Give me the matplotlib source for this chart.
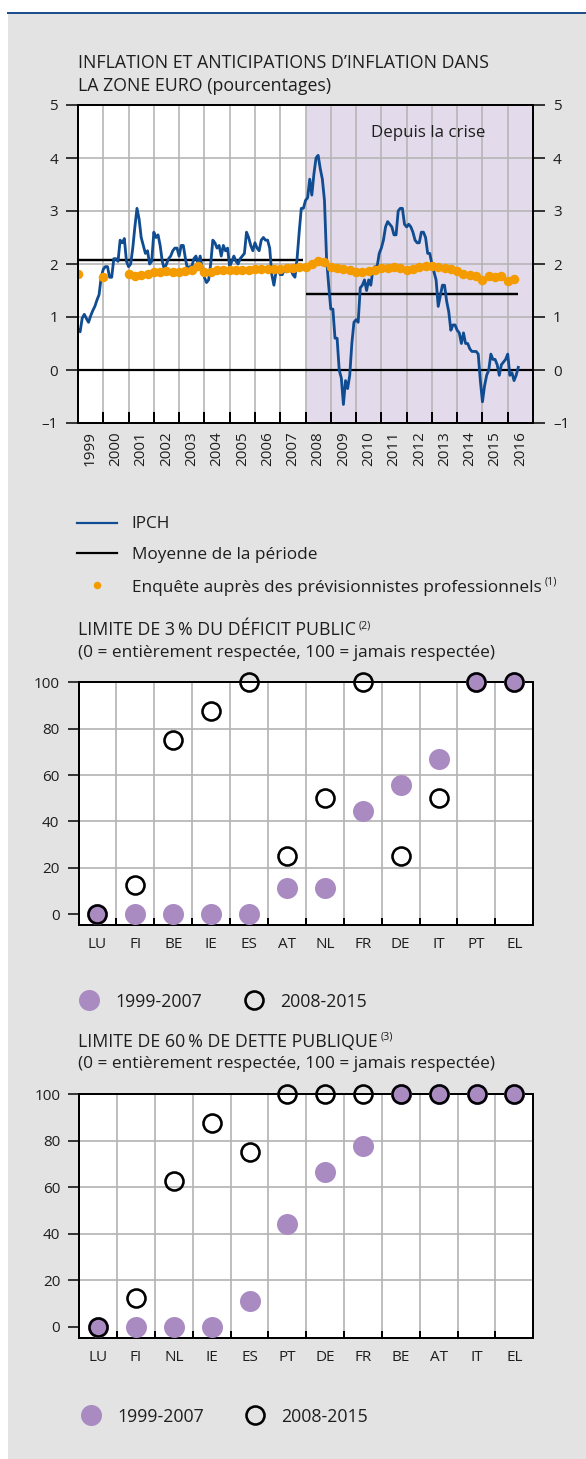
import numpy as np
import matplotlib
matplotlib.use("Agg")
import matplotlib.pyplot as plt
from matplotlib.lines import Line2D
from matplotlib.patches import Rectangle

# ---------------- data ----------------
ipch_start = 1999  # monthly, Jan 1999 - Jun 2016
ipch_1999 = [0.78, 0.72, 0.98, 1.05, 0.97, 0.90, 1.02, 1.12, 1.20, 1.32, 1.42, 1.75]
ipch_2000 = [1.90, 1.95, 1.95, 1.75, 1.75, 2.10, 2.10, 2.05, 2.45, 2.40, 2.48, 2.05]
ipch_2001 = [1.95, 2.00, 2.30, 2.70, 3.05, 2.85, 2.50, 2.35, 2.20, 2.25, 2.00, 2.05]
ipch_2002 = [2.60, 2.50, 2.55, 2.35, 2.05, 1.90, 2.00, 2.10, 2.15, 2.25, 2.30, 2.30]
ipch_2003 = [2.15, 2.35, 2.35, 2.10, 1.90, 1.95, 1.95, 2.10, 2.15, 2.00, 2.15, 1.90]
ipch_2004 = [1.75, 1.65, 1.70, 2.00, 2.45, 2.40, 2.30, 2.35, 2.15, 2.35, 2.25, 2.30]
ipch_2005 = [1.95, 2.05, 2.15, 2.05, 2.00, 2.10, 2.15, 2.20, 2.60, 2.50, 2.35, 2.25]
ipch_2006 = [2.40, 2.30, 2.25, 2.45, 2.50, 2.45, 2.45, 2.30, 1.80, 1.60, 1.85, 1.90]
ipch_2007 = [1.80, 1.80, 1.90, 1.85, 1.90, 1.90, 1.80, 1.75, 2.10, 2.60, 3.05, 3.05]
ipch_2008 = [3.20, 3.25, 3.60, 3.30, 3.70, 4.00, 4.05, 3.80, 3.60, 3.20, 2.10, 1.60]
ipch_2009 = [1.15, 1.15, 0.60, 0.60, 0.00, -0.15, -0.65, -0.20, -0.35, -0.10, 0.50, 0.90]
ipch_2010 = [0.95, 0.90, 1.55, 1.60, 1.70, 1.50, 1.70, 1.60, 1.90, 1.95, 1.95, 2.20]
ipch_2011 = [2.30, 2.45, 2.70, 2.80, 2.75, 2.70, 2.55, 2.55, 3.00, 3.05, 3.05, 2.75]
ipch_2012 = [2.70, 2.75, 2.70, 2.60, 2.45, 2.40, 2.40, 2.60, 2.60, 2.50, 2.20, 2.20]
ipch_2013 = [2.00, 1.85, 1.70, 1.20, 1.40, 1.60, 1.60, 1.30, 1.10, 0.75, 0.85, 0.85]
ipch_2014 = [0.75, 0.70, 0.50, 0.70, 0.50, 0.50, 0.40, 0.35, 0.35, 0.35, 0.30, -0.20]
ipch_2015 = [-0.60, -0.30, -0.10, 0.00, 0.30, 0.20, 0.20, 0.10, -0.10, 0.10, 0.15, 0.20]
ipch_2016 = [0.30, -0.10, -0.05, -0.20, -0.10, 0.05]

# Survey of professional forecasters: 1999Q1, 2000Q1, then quarterly 2001Q1 - 2016Q2
spf_early_t = [1999.0, 2000.0]
spf_early = [1.81, 1.76]
spf_q_start = 2001
spf_q = [1.82, 1.78, 1.79, 1.82, 1.84, 1.84, 1.86, 1.84,   # 2001-2002
         1.85, 1.87, 1.88, 1.96, 1.84, 1.85, 1.88, 1.89,   # 2003-2004
         1.88, 1.88, 1.89, 1.88, 1.90, 1.90, 1.90, 1.90,   # 2005-2006
         1.91, 1.92, 1.93, 1.94, 1.95, 2.00, 2.05, 2.03,   # 2007-2008
         1.95, 1.92, 1.91, 1.88, 1.85, 1.84, 1.86, 1.88,   # 2009-2010
         1.92, 1.93, 1.95, 1.92, 1.88, 1.90, 1.94, 1.96,   # 2011-2012
         1.96, 1.95, 1.92, 1.90, 1.86, 1.82, 1.80, 1.77,   # 2013-2014
         1.70, 1.78, 1.76, 1.78, 1.67, 1.71]               # 2015-2016H1

mean_pre_crisis = 2.07    # 1999-2007
mean_post_crisis = 1.43   # 2008-2016
crisis_year = 2008
year_labels = [str(y) for y in range(1999, 2017)]

deficit_cats = ["LU", "FI", "BE", "IE", "ES", "AT", "NL", "FR", "DE", "IT", "PT", "EL"]
deficit_1999_2007 = [0, 0, 0, 0, 0, 11.1, 11.1, 44.4, 55.6, 66.7, 100, 100]
deficit_2008_2015 = [0, 12.5, 75, 87.5, 100, 25, 50, 100, 25, 50, 100, 100]

debt_cats = ["LU", "FI", "NL", "IE", "ES", "PT", "DE", "FR", "BE", "AT", "IT", "EL"]
debt_1999_2007 = [0, 0, 0, 0, 11.1, 44.4, 66.7, 77.8, 100, 100, 100, 100]
debt_2008_2015 = [0, 12.5, 62.5, 87.5, 75, 100, 100, 100, 100, 100, 100, 100]

# ---------------- style ----------------
W, H, DPI = 586, 1459, 100
BG = "#e3e3e3"
SHADE = "#e3dbeb"
GRID = "#b4b4b4"
BLUE = "#0f4c91"
ORANGE = "#f49b00"
PURPLE = "#a98bc2"
TXT = "#1e1e1e"
FONT = ["Open Sans", "DejaVu Sans"]
plt.rcParams["font.family"] = FONT
plt.rcParams["text.color"] = TXT
plt.rcParams["xtick.color"] = "black"
plt.rcParams["ytick.color"] = "black"
plt.rcParams["xtick.labelcolor"] = TXT
plt.rcParams["ytick.labelcolor"] = TXT

FS_CAPS = 12.8
FS_TITLE = 12.4
FS_NUM = 12.8
FS_TICK = 11.0
PX = 72.0 / DPI  # points per pixel

fig = plt.figure(figsize=(W / DPI, H / DPI), dpi=DPI, facecolor="white")
fig.patches.append(Rectangle((8 / W, 0), 1 - 8 / W, 1 - 13 / H, transform=fig.transFigure,
                             facecolor=BG, edgecolor="none", zorder=-10))
fig.add_artist(Line2D([8 / W, 1], [1 - 13 / H] * 2, color="#1f4e8c", lw=2 * PX))


def fx(x):
    return x / W


def fy(y):
    return 1 - y / H


def add_axes_px(l, t, r, b):
    return fig.add_axes([fx(l), fy(b), (r - l) / W, (b - t) / H])


renderer = fig.canvas.get_renderer()


def title_with_sup(x, y, s, sup=None, size=FS_TITLE):
    t = fig.text(fx(x), fy(y), s, fontsize=size, va="baseline", ha="left")
    if sup:
        bb = t.get_window_extent(renderer=renderer)
        fig.text((bb.x1 + 3) / W, fy(y - 7), sup, fontsize=FS_TITLE * 0.62, va="baseline", ha="left")
    return t


# ---------------- top chart ----------------
title_with_sup(78, 68.5, "INFLATION ET ANTICIPATIONS D\u2019INFLATION DANS", size=FS_CAPS)
title_with_sup(78, 90.7, "LA ZONE EURO (pourcentages)", size=FS_CAPS)

ax1 = add_axes_px(78, 105, 533, 423)
ax1.set_xlim(1999, 2017)
ax1.set_ylim(-1, 5)
ax1.set_facecolor("white")
ax1.axvspan(crisis_year, 2017, color=SHADE, lw=0, zorder=0)
for yr in range(2000, 2017):
    ax1.axvline(yr, color=GRID, lw=1.6 * PX, zorder=1)
for yv in [1, 2, 3, 4]:
    ax1.axhline(yv, color=GRID, lw=1.6 * PX, zorder=1)
ax1.axhline(0, color="black", lw=2.2 * PX, zorder=2)

ipch = (ipch_1999 + ipch_2000 + ipch_2001 + ipch_2002 + ipch_2003 + ipch_2004 + ipch_2005
        + ipch_2006 + ipch_2007 + ipch_2008 + ipch_2009 + ipch_2010 + ipch_2011 + ipch_2012
        + ipch_2013 + ipch_2014 + ipch_2015 + ipch_2016)
t_ipch = ipch_start + np.arange(len(ipch)) / 12.0
pre = t_ipch < crisis_year
ax1.hlines(mean_pre_crisis, t_ipch[pre][0], t_ipch[pre][-1], color="black", lw=2.4 * PX, zorder=3)
ax1.hlines(mean_post_crisis, t_ipch[~pre][0], t_ipch[~pre][-1], color="black", lw=2.4 * PX, zorder=3)
ax1.plot(t_ipch, ipch, color=BLUE, lw=2.8 * PX, zorder=4, solid_joinstyle="round")
t_spf = np.concatenate([spf_early_t, spf_q_start + np.arange(len(spf_q)) / 4.0])
v_spf = spf_early + spf_q
ax1.plot(t_spf, v_spf, "o", color=ORANGE, ms=9.5 * PX, mew=0, zorder=5)

ax1.text(2012.85, 4.48, "Depuis la crise", ha="center", va="center", fontsize=12.2)

for sp in ax1.spines.values():
    sp.set_color("black")
    sp.set_linewidth(2 * PX)
    sp.set_zorder(6)
ax1.set_xticks(range(1999, 2018))
ax1.set_xticklabels([])
ax1.tick_params(axis="x", which="major", direction="in", length=11 * PX, width=2 * PX)
ax1.set_xticks(np.arange(1999.5, 2017), minor=True)
ax1.set_xticklabels(year_labels, minor=True, rotation=90, fontsize=FS_TICK)
ax1.tick_params(axis="x", which="minor", length=0, pad=8 * PX)
ax1.set_yticks(range(-1, 6))
ax1.set_yticklabels(["\u20131" if v < 0 else str(v) for v in range(-1, 6)], fontsize=FS_TICK)
ax1.tick_params(axis="y", which="major", direction="out", left=True, right=True,
                labelleft=True, labelright=True, length=12 * PX, width=1.5 * PX, pad=8 * PX)

# legend for top chart
for yy, col in [(522.7, BLUE), (552.7, "black")]:
    fig.add_artist(Line2D([fx(77), fx(117)], [fy(yy)] * 2, color=col, lw=2.2 * PX))
fig.add_artist(Line2D([fx(96.7)], [fy(585)], marker="o", ls="none", color=ORANGE, ms=7.5 * PX, mew=0))
fig.text(fx(131.5), fy(528.3), "IPCH", fontsize=FS_TITLE, va="baseline")
fig.text(fx(131.5), fy(559), "Moyenne de la p\u00e9riode", fontsize=FS_TITLE, va="baseline")
title_with_sup(131.5, 591.7, "Enqu\u00eate aupr\u00e8s des pr\u00e9visionnistes professionnels", "(1)")


# ---------------- scatter charts ----------------
def scatter_chart(box, cats, v_old, v_new, title, sup, sub, ty, legend_y, legend_x):
    title_with_sup(78, ty, title, sup, size=FS_CAPS)
    title_with_sup(78, ty + 21.8, sub)
    ax = add_axes_px(*box)
    ax.set_facecolor("white")
    x = np.arange(len(cats))
    ax.set_xlim(-0.5, len(cats) - 0.5)
    ax.set_ylim(-4.7, 100)
    for b in np.arange(0.5, len(cats) - 0.5):
        ax.axvline(b, color=GRID, lw=1.7 * PX, zorder=1)
    for yv in [20, 40, 60, 80]:
        ax.axhline(yv, color=GRID, lw=1.7 * PX, zorder=1)
    ax.plot(x, v_old, "o", ls="none", color=PURPLE, ms=21 * PX, mew=0, zorder=7, clip_on=False)
    ax.plot(x, v_new, "o", ls="none", mfc="none", mec="black", ms=18 * PX, mew=2.6 * PX,
            zorder=8, clip_on=False)
    for sp in ax.spines.values():
        sp.set_color("black")
        sp.set_linewidth(2 * PX)
        sp.set_zorder(6)
    ax.set_xticks(np.arange(0.5, len(cats) - 0.5))
    ax.set_xticklabels([])
    ax.tick_params(axis="x", which="major", direction="in", length=7 * PX, width=2 * PX)
    ax.set_xticks(x, minor=True)
    ax.set_xticklabels(cats, minor=True, fontsize=FS_TICK)
    ax.tick_params(axis="x", which="minor", length=0, pad=12 * PX)
    ax.set_yticks(range(0, 101, 20))
    ax.set_yticklabels([str(v) for v in range(0, 101, 20)], fontsize=FS_TICK)
    ax.tick_params(axis="y", direction="out", length=11 * PX, width=1.5 * PX, pad=8 * PX)
    # legend
    dx, tx, cx, ctx = legend_x
    fig.add_artist(Line2D([fx(dx)], [fy(legend_y)], marker="o", ls="none", color=PURPLE,
                          ms=21 * PX, mew=0))
    fig.add_artist(Line2D([fx(cx)], [fy(legend_y)], marker="o", ls="none", mfc="none",
                          mec="black", ms=18 * PX, mew=2.6 * PX))
    fig.text(fx(tx), fy(legend_y + 6.8), "1999-2007", fontsize=FS_NUM, va="baseline")
    fig.text(fx(ctx), fy(legend_y + 6.8), "2008-2015", fontsize=FS_NUM, va="baseline")
    return ax


sub = "(0 = enti\u00e8rement respect\u00e9e, 100 = jamais respect\u00e9e)"
scatter_chart((78.5, 682.3, 533.3, 925), deficit_cats, deficit_1999_2007, deficit_2008_2015,
              "LIMITE DE 3\u2009% DU D\u00c9FICIT PUBLIC", "(2)", sub, 635, 1000,
              (89, 115, 254.3, 280))
scatter_chart((79.3, 1094.3, 533.3, 1337.7), debt_cats, debt_1999_2007, debt_2008_2015,
              "LIMITE DE 60\u2009% DE DETTE PUBLIQUE", "(3)", sub, 1046.7, 1415,
              (90.7, 117.3, 255, 280.7))

fig.savefig("out.png", dpi=DPI, facecolor=fig.get_facecolor())
